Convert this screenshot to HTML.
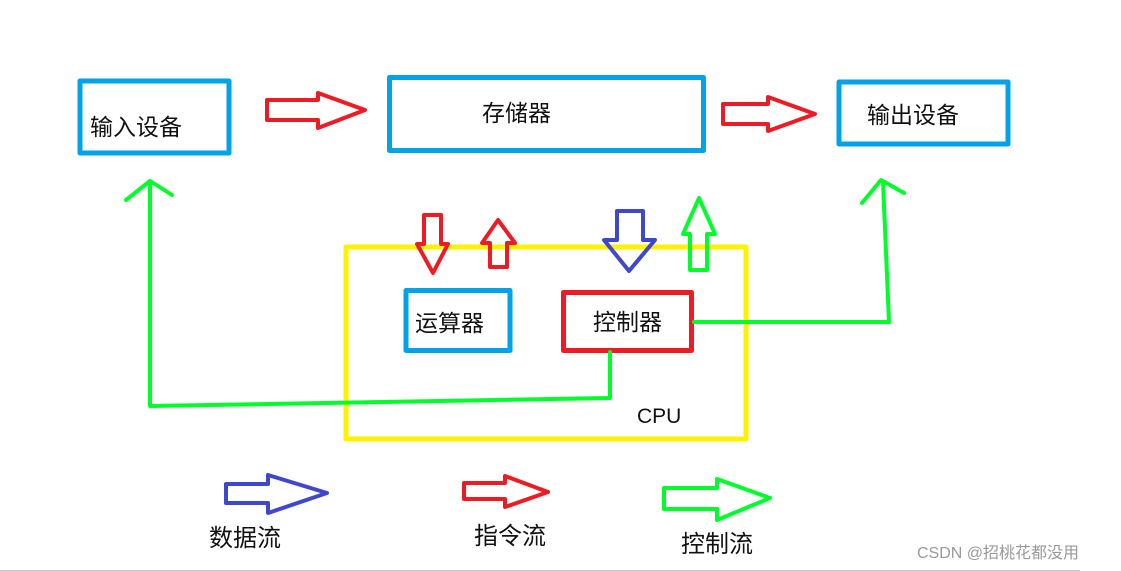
<!DOCTYPE html>
<html><head><meta charset="utf-8"><style>
html,body{margin:0;padding:0;background:#fff;}
svg{display:block}
text{font-family:"Liberation Sans","Noto Sans CJK SC",sans-serif;fill:#111}
</style></head><body>
<svg width="1121" height="571" viewBox="0 0 1121 571" xmlns="http://www.w3.org/2000/svg">
<g fill="none" stroke-linejoin="round" stroke-width="5">
<!-- boxes -->
<rect x="80" y="81" width="149" height="72" stroke="#00a2e8"/>
<rect x="389.5" y="77.5" width="314" height="73" stroke="#00a2e8"/>
<rect x="839" y="82" width="169" height="62" stroke="#00a2e8"/>
<rect x="346" y="247" width="400" height="192" stroke="#fff200"/>
<rect x="406" y="290.5" width="104" height="60" stroke="#00a2e8"/>
<rect x="563.5" y="292.5" width="128" height="58" stroke="#ed1c24"/>
</g>
<g fill="none" stroke-linejoin="round" stroke-width="4">
<!-- horizontal arrows -->
<polygon points="267,100 318,100 318,93 365,110 318,128 318,120 267,120" stroke="#ed1c24"/>
<polygon points="723,104 768,104 768,97 815,114 768,131 768,124 723,124" stroke="#ed1c24"/>
<polygon points="226,484 268,484 268,475 327,493 268,513 268,503 226,503" stroke="#3f48cc"/>
<polygon points="464,483 505,483 505,476 548,492 505,507 505,499 464,499" stroke="#ed1c24"/>
<polygon points="664,488 717,488 717,479 770,498 717,520 717,509 664,509" stroke="#00ff2a"/>
<!-- vertical arrows -->
<polygon points="424,215 441,215 441,244 448,244 433,273 417,244 424,244" stroke="#ed1c24"/>
<polygon points="490,267 507,267 507,243 515,243 498,220 482,243 490,243" stroke="#ed1c24"/>
<polygon points="617,211 643,211 643,240 655,240 629,271 604,240 617,240" stroke="#3f48cc"/>
<polygon points="690,270 707,270 707,234 715,234 699,198 683,234 690,234" stroke="#00ff2a"/>
</g>
<g fill="none" stroke="#00ff2a" stroke-width="4" stroke-linecap="round" stroke-linejoin="round">
<polyline points="150,182 150,406 440,401 610,398 610,352"/>
<polyline points="126,200 150,181 172,195"/>
<polyline points="694,322 889,322 883,182"/>
<polyline points="862,203 881,180 904,193"/>
</g>
<g font-size="23">
<text x="90" y="135">输入设备</text>
<text x="482" y="121">存储器</text>
<text x="867" y="123">输出设备</text>
<text x="415" y="331">运算器</text>
<text x="593" y="330">控制器</text>
<text x="637" y="423" font-size="21">CPU</text>
<text x="209" y="546" font-size="24">数据流</text>
<text x="474" y="544" font-size="24">指令流</text>
<text x="681" y="552" font-size="24">控制流</text>
</g>
<text x="917" y="558" font-size="16" style="fill:#999">CSDN @招桃花都没用</text>
<line x1="0" y1="570.5" x2="1080" y2="570.5" stroke="#ccc" stroke-width="1"/>
</svg>
</body></html>
